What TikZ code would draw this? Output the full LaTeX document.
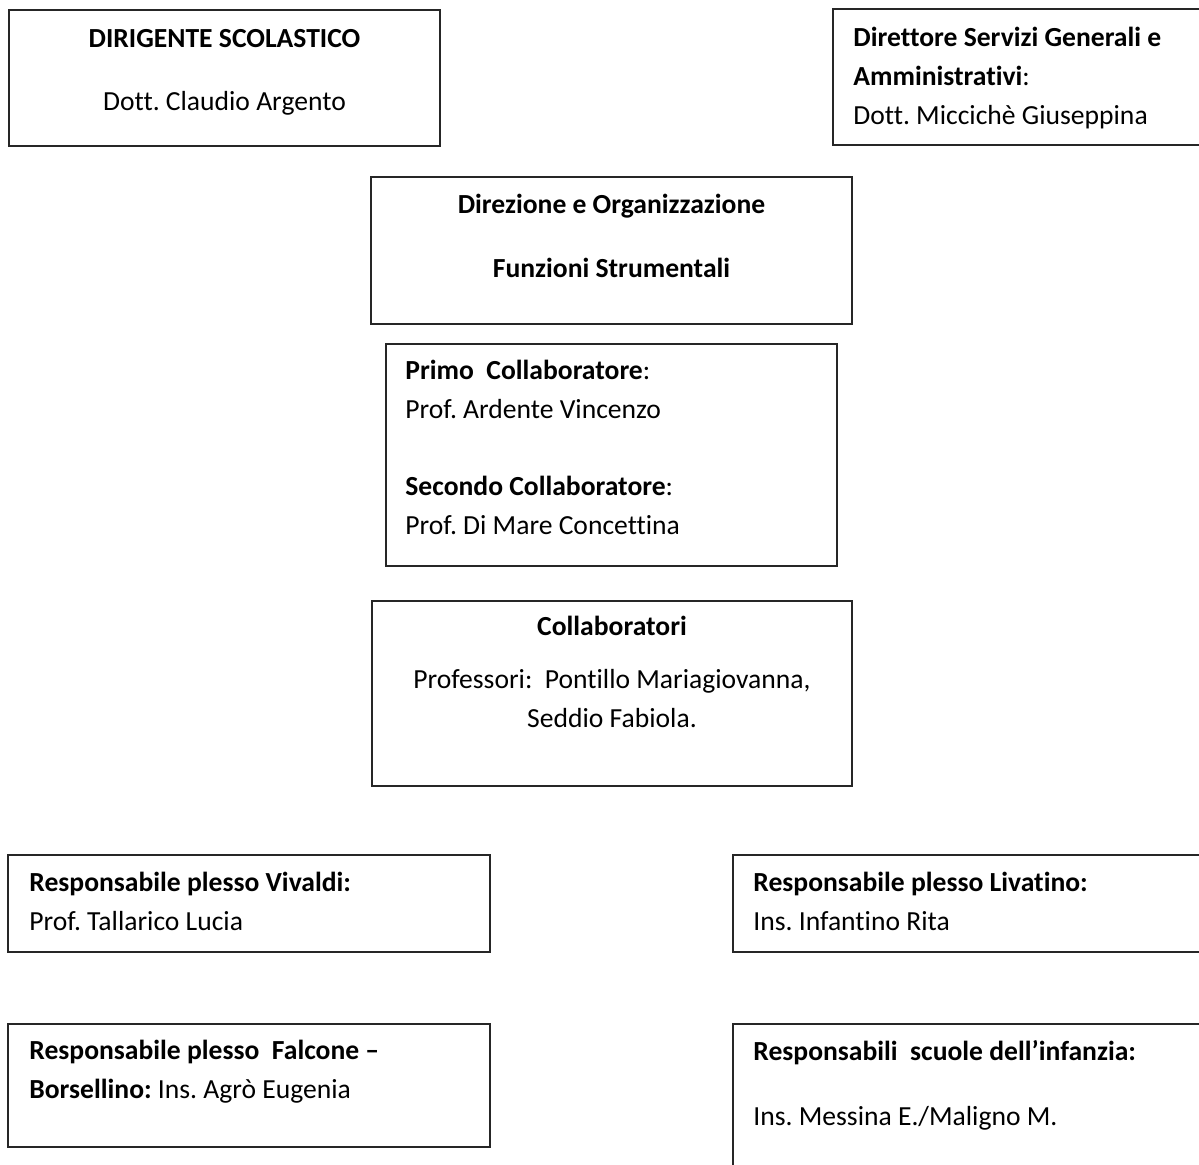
\documentclass[tikz,border=0pt]{standalone}
\usepackage{fontspec}
\setmainfont{Carlito}[Ligatures={TeX,NoCommon}]
\usetikzlibrary{positioning}
\frenchspacing

\begin{document}
\begin{tikzpicture}[
        x=0.5pt, y=-0.5pt,
        riquadro/.style={
            rectangle,
            draw=black!85,
            line width=0.9pt,
            anchor=north west,
            inner sep=0pt,
            outer sep=0pt
        },
        testo/.style={
            inner sep=0pt,
            font=\fontsize{13.8}{19.3}\selectfont
        },
        sinistra/.style={testo, anchor=base west, align=left},
        centro/.style={testo, anchor=base, align=center}
    ]
        \useasboundingbox (0,0) rectangle (1199,1164);
        \clip (0,0) rectangle (1199,1164);

        % riquadri
        \node[riquadro, minimum width=215.5pt, minimum height=68pt] (dirigente) at (9,10) {};
        \node[riquadro, minimum width=200pt, minimum height=68pt] (dsga) at (833,9) {};
        \node[riquadro, minimum width=240.5pt, minimum height=73.5pt] (direzione) at (371,177) {};
        \node[riquadro, minimum width=225.5pt, minimum height=111pt] (primo) at (386,344) {};
        \node[riquadro, minimum width=240pt, minimum height=92.5pt] (collab) at (372,601) {};
        \node[riquadro, minimum width=241pt, minimum height=48.5pt] (vivaldi) at (8,855) {};
        \node[riquadro, minimum width=250pt, minimum height=48.5pt] (livatino) at (733,855) {};
        \node[riquadro, minimum width=241pt, minimum height=61.5pt] (falcone) at (8,1024) {};
        \node[riquadro, minimum width=250pt, minimum height=100pt] (infanzia) at (733,1024) {};

        % testi (base = ultima riga)
        \node[centro] (dirigenteT) at ([shift={(0,100)}]dirigente.north) {
            \textbf{DIRIGENTE SCOLASTICO}\\[12.2pt]
            Dott. Claudio Argento
        };
        \node[sinistra] (dsgaT) at ([shift={(20,115)}]dsga.north west) {
            \textbf{Direttore Servizi Generali e}\\
            \textbf{Amministrativi}:\\
            Dott. Miccichè Giuseppina
        };
        \node[centro] (direzioneT) at ([shift={(0,100)}]direzione.north) {
            \textbf{Direzione e Organizzazione}\\[12.7pt]
            \textbf{Funzioni Strumentali}
        };
        \node[sinistra] (primoT) at ([shift={(19,190)}]primo.north west) {
            \textbf{Primo\ \ Collaboratore}:\\
            Prof. Ardente Vincenzo\\[19.2pt]
            \textbf{Secondo Collaboratore}:\\
            Prof. Di Mare Concettina
        };
        \node[centro] (collabT) at ([shift={(0,126)}]collab.north) {
            \textbf{Collaboratori}\\[7.2pt]
            Professori:\ \ Pontillo Mariagiovanna,\\
            Seddio Fabiola.
        };
        \node[sinistra] (vivaldiT) at ([shift={(21,75)}]vivaldi.north west) {
            \textbf{Responsabile plesso Vivaldi:}\\
            Prof. Tallarico Lucia
        };
        \node[sinistra] (livatinoT) at ([shift={(20,75)}]livatino.north west) {
            \textbf{Responsabile plesso Livatino:}\\
            Ins. Infantino Rita
        };
        \node[sinistra] (falconeT) at ([shift={(21,74)}]falcone.north west) {
            \textbf{Responsabile plesso\ \ Falcone --}\\
            \textbf{Borsellino:} Ins. Agrò Eugenia
        };
        \node[sinistra] (infanziaT) at ([shift={(20,101)}]infanzia.north west) {
            \textbf{Responsabili\ \ scuole dell'infanzia:}\\[13.2pt]
            Ins. Messina E./Maligno M.
        };
    \end{tikzpicture}
\end{document}
